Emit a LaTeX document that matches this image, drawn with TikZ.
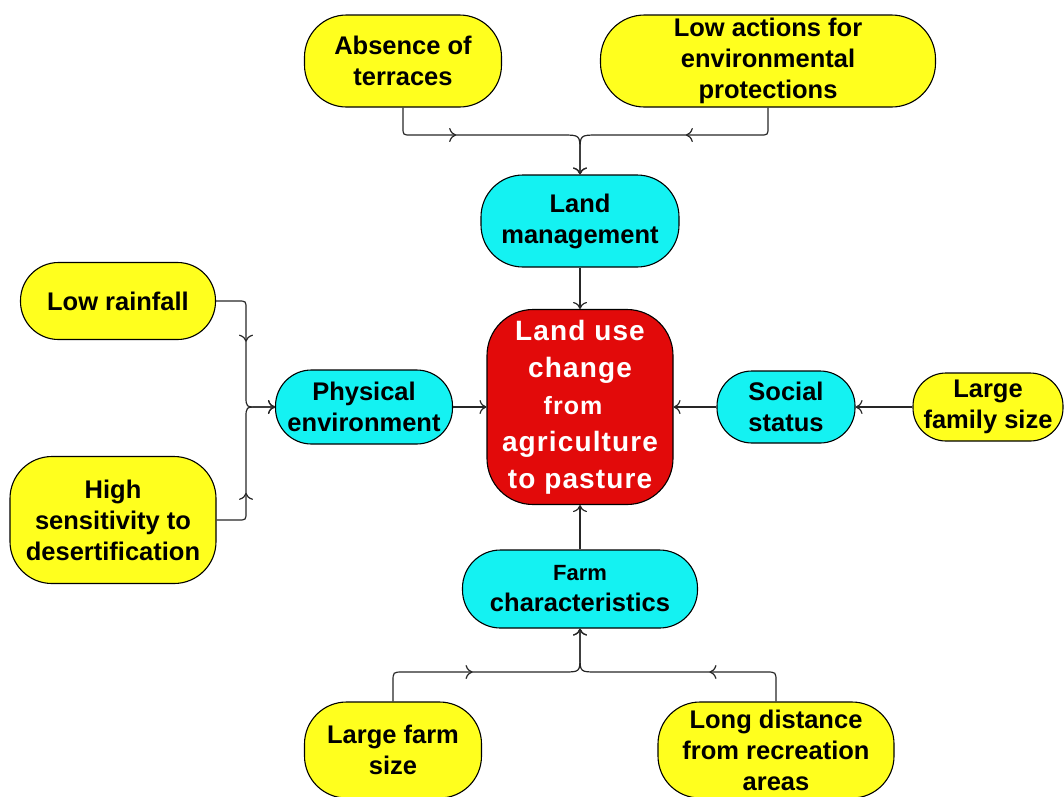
\documentclass[tikz,border=0pt]{standalone}
\usepackage{fontspec}
\setmainfont{Liberation Sans}
\newfontfamily\spacedsans{Liberation Sans}[LetterSpace=4]
\usetikzlibrary{arrows.meta,decorations.markings}
\definecolor{boxyellow}{RGB}{255,255,30}
\definecolor{boxcyan}{RGB}{20,242,242}
\definecolor{boxred}{RGB}{226,10,10}
\begin{document}
\begin{tikzpicture}[x=1pt,y=-1pt,
  box/.style={draw=black, line width=1.1pt, align=center, inner sep=0pt,
    font=\fontsize{25.5}{31}\selectfont\bfseries},
  yellowbox/.style={box, fill=boxyellow},
  cyanbox/.style={box, fill=boxcyan},
  redbox/.style={box, fill=boxred, text=white,
    font=\spacedsans\bfseries\fontsize{28}{37}\selectfont},
  conn/.style={draw=black!85, line width=1.2pt},
  tip/.style={-{Computer Modern Rightarrow[length=7pt,width=14pt]}},
  midtip/.style={postaction={decorate}, decoration={markings,
    mark=at position #1 with {\arrow{Computer Modern Rightarrow[length=7pt,width=14pt]}}}},
]
\useasboundingbox (0,0) rectangle (1064,796);

% central outcome
\node[redbox, minimum width=186pt, minimum height=195pt, rounded corners=46pt]
  (red) at (580,407) {Land use\\change\\{\fontsize{25}{37}\selectfont from\kern14pt}\\agriculture\\to pasture};

% intermediate factors
\node[cyanbox, minimum width=198pt, minimum height=92pt, rounded corners=42pt]
  (lm) at (580,221) {Land\\management};
\node[cyanbox, minimum width=177pt, minimum height=74pt, rounded corners=36pt]
  (phys) at (364,407) {Physical\\environment};
\node[cyanbox, minimum width=138pt, minimum height=72pt, rounded corners=35pt]
  (ss) at (786,407) {Social\\status};
\node[cyanbox, minimum width=235pt, minimum height=78pt, rounded corners=38pt]
  (fc) at (580,589) {{\fontsize{22}{31}\selectfont Farm}\\characteristics};

% underlying causes
\node[yellowbox, minimum width=197pt, minimum height=92pt, rounded corners=42pt]
  (abs) at (403,61) {Absence of\\terraces};
\node[yellowbox, minimum width=335pt, minimum height=92pt, rounded corners=44pt]
  (la) at (768,61) {Low actions for\\environmental\\protections};
\node[yellowbox, minimum width=195pt, minimum height=77pt, rounded corners=38pt]
  (lr) at (118,301) {Low rainfall};
\node[yellowbox, minimum width=206pt, minimum height=127pt, rounded corners=42pt]
  (hs) at (113,520) {High\\sensitivity to\\desertification};
\node[yellowbox, minimum width=150pt, minimum height=68pt, rounded corners=33pt]
  (lf) at (988,407) {Large\\family size};
\node[yellowbox, minimum width=177pt, minimum height=96pt, rounded corners=42pt]
  (lfs) at (393,750) {Large farm\\size};
\node[yellowbox, minimum width=236pt, minimum height=96pt, rounded corners=42pt]
  (ld) at (776,750) {Long distance\\from recreation\\areas};

% connectors into land management
\draw[conn, tip, midtip=79pt] (abs.south) -- (403,127) .. controls (403,135) .. (411,135)
  -- (562,135) .. controls (580,135) .. (580,152) -- (lm.north);
\draw[conn, tip, midtip=108pt] (la.south) -- (768,127) .. controls (768,135) .. (760,135)
  -- (598,135) .. controls (580,135) .. (580,152) -- (lm.north);

% connectors into physical environment
\draw[conn, tip, midtip=69pt] (lr.east) -- (238,301) .. controls (246,301) .. (246,309)
  -- (246,396) .. controls (246,407) .. (258,407) -- (phys.west);
\draw[conn, tip, midtip=55pt] (hs.east) -- (238,520) .. controls (246,520) .. (246,512)
  -- (246,418) .. controls (246,407) .. (258,407) -- (phys.west);

% connectors into farm characteristics
\draw[conn, tip, midtip=107pt] (lfs.north) -- (393,682) .. controls (393,672) .. (403,672)
  -- (563,672) .. controls (580,672) .. (580,656) -- (fc.south);
\draw[conn, tip, midtip=94pt] (ld.north) -- (776,682) .. controls (776,672) .. (766,672)
  -- (597,672) .. controls (580,672) .. (580,656) -- (fc.south);

% social chain
\draw[conn, tip] (lf.west) -- (ss.east);

% factors into the central outcome
\draw[conn, tip] (lm.south) -- (red.north);
\draw[conn, tip] (phys.east) -- (red.west);
\draw[conn, tip] (ss.west) -- (red.east);
\draw[conn, tip] (fc.north) -- (red.south);
\end{tikzpicture}
\end{document}
